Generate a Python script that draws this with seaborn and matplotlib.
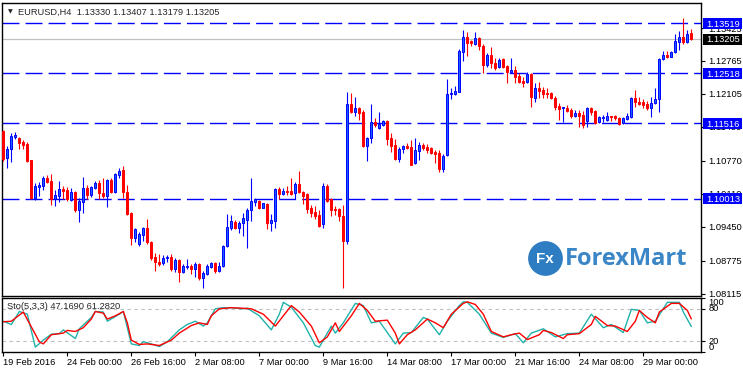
import numpy as np
import pandas as pd
import matplotlib
matplotlib.use('Agg')
import matplotlib.pyplot as plt
import matplotlib.transforms as mtransforms
from matplotlib.patches import Rectangle
from matplotlib.lines import Line2D
import seaborn as sns

# EURUSD H4 candles, 19 Feb 08:00 .. 30 Mar 2016
opens = [
    1.11365, 1.10825, 1.11005, 1.11245, 1.11225, 1.11145, 1.11105, 1.10785, 1.10025, 1.10245,
    1.10265, 1.10425, 1.10365, 1.10005, 1.10065, 1.10205, 1.10185, 1.09985, 1.10145, 1.09785,
    1.09945, 1.10225, 1.10085, 1.10225, 1.10325, 1.10125, 1.10065, 1.10385, 1.10145, 1.10485,
    1.10585, 1.10145, 1.09725, 1.09225, 1.09105, 1.09285, 1.09425, 1.09145, 1.08845, 1.08745,
    1.08725, 1.08825, 1.08845, 1.08605, 1.08785, 1.08545, 1.08645, 1.08665, 1.08605, 1.08705,
    1.08425, 1.08505, 1.08645, 1.08725, 1.08565, 1.08665, 1.09065, 1.09425, 1.09545, 1.09425,
    1.09525, 1.09585, 1.09785, 1.09945, 1.09965, 1.09825, 1.09905, 1.09525, 1.09565, 1.10205,
    1.10105, 1.10165, 1.10165, 1.10125, 1.10305, 1.10145, 1.10105, 1.09825, 1.09745, 1.09685,
    1.09505, 1.10265, 1.10005, 1.09805, 1.09805, 1.09665, 1.09165, 1.11905, 1.11745, 1.11825,
    1.11745, 1.11065, 1.11225, 1.11545, 1.11425, 1.11485, 1.11565, 1.11225, 1.11085, 1.10805,
    1.11005, 1.11065, 1.11045, 1.10725, 1.10965, 1.11085, 1.11045, 1.11025, 1.10945, 1.10925,
    1.10605, 1.10885, 1.12105, 1.12105, 1.12145, 1.12945, 1.13245, 1.13165, 1.13105, 1.13225,
    1.13065, 1.12685, 1.12885, 1.12725, 1.12645, 1.12805, 1.12665, 1.12545, 1.12585, 1.12465,
    1.12365, 1.12345, 1.12505, 1.12025, 1.12225, 1.12185, 1.12125, 1.12125, 1.12025, 1.11865,
    1.11825, 1.11825, 1.11785, 1.11665, 1.11725, 1.11685, 1.11565, 1.11825, 1.11765, 1.11545,
    1.11625, 1.11585, 1.11665, 1.11665, 1.11625, 1.11525, 1.11605, 1.11645, 1.12025, 1.11945,
    1.11945, 1.11905, 1.11825, 1.11925, 1.12005, 1.12805, 1.12885, 1.12845, 1.12945, 1.13145,
    1.13245, 1.13145, 1.13330]
highs = [
    1.11385, 1.11065, 1.11325, 1.11345, 1.11245, 1.11185, 1.11145, 1.10785, 1.10325, 1.10345,
    1.10465, 1.10485, 1.10505, 1.10185, 1.10365, 1.10265, 1.10245, 1.10225, 1.10165, 1.10025,
    1.10445, 1.10285, 1.10265, 1.10365, 1.10385, 1.10425, 1.10405, 1.10425, 1.10525, 1.10625,
    1.10665, 1.10285, 1.09745, 1.09425, 1.09345, 1.09445, 1.09605, 1.09165, 1.08925, 1.08905,
    1.08885, 1.08885, 1.08905, 1.08825, 1.08805, 1.08705, 1.08805, 1.08705, 1.08745, 1.08725,
    1.08565, 1.08705, 1.08745, 1.08745, 1.08745, 1.09085, 1.09705, 1.09685, 1.09585, 1.09565,
    1.09725, 1.09825, 1.10425, 1.10025, 1.09985, 1.09925, 1.09925, 1.09705, 1.10225, 1.10245,
    1.10225, 1.10265, 1.10425, 1.10345, 1.10565, 1.10165, 1.10125, 1.09885, 1.09865, 1.09785,
    1.10325, 1.10305, 1.10025, 1.09865, 1.09825, 1.09885, 1.12145, 1.12125, 1.12045, 1.11845,
    1.11785, 1.11245, 1.11905, 1.11625, 1.11745, 1.11585, 1.11585, 1.11325, 1.11205, 1.11045,
    1.11085, 1.11125, 1.11185, 1.11225, 1.11145, 1.11125, 1.11105, 1.11045, 1.10985, 1.10985,
    1.10905, 1.12405, 1.12225, 1.12265, 1.13005, 1.13385, 1.13345, 1.13185, 1.13345, 1.13245,
    1.13105, 1.12925, 1.13045, 1.12825, 1.12825, 1.12825, 1.12685, 1.12825, 1.12665, 1.12525,
    1.12445, 1.12545, 1.12525, 1.12325, 1.12345, 1.12245, 1.12225, 1.12145, 1.12065, 1.11925,
    1.11845, 1.11885, 1.11825, 1.11785, 1.11785, 1.11765, 1.11845, 1.11845, 1.11785, 1.11665,
    1.11685, 1.11745, 1.11665, 1.11685, 1.11645, 1.11645, 1.11725, 1.12045, 1.12185, 1.12045,
    1.12005, 1.11965, 1.12045, 1.12225, 1.12825, 1.12965, 1.12965, 1.12965, 1.13305, 1.13365,
    1.13625, 1.13385, 1.13407]
lows = [
    1.10765, 1.10625, 1.10745, 1.11205, 1.11005, 1.11005, 1.10745, 1.10005, 1.09985, 1.10065,
    1.10185, 1.10325, 1.09885, 1.09865, 1.09945, 1.10005, 1.09965, 1.09965, 1.09745, 1.09545,
    1.09725, 1.10005, 1.10045, 1.10205, 1.10005, 1.10025, 1.09845, 1.10125, 1.10125, 1.10425,
    1.10025, 1.09685, 1.09085, 1.09145, 1.09065, 1.09165, 1.09105, 1.08785, 1.08565, 1.08665,
    1.08685, 1.08745, 1.08565, 1.08545, 1.08345, 1.08525, 1.08605, 1.08505, 1.08445, 1.08385,
    1.08225, 1.08485, 1.08625, 1.08525, 1.08545, 1.08645, 1.09045, 1.09385, 1.09405, 1.09325,
    1.09265, 1.09025, 1.09565, 1.09865, 1.09805, 1.09825, 1.09405, 1.09365, 1.09425, 1.10005,
    1.10085, 1.10085, 1.10085, 1.10005, 1.10125, 1.09905, 1.09725, 1.09645, 1.09605, 1.09445,
    1.09425, 1.09945, 1.09665, 1.09685, 1.09565, 1.08225, 1.09105, 1.11725, 1.11665, 1.11585,
    1.11045, 1.10765, 1.11125, 1.11445, 1.11405, 1.11465, 1.11085, 1.10945, 1.10785, 1.10745,
    1.10925, 1.11005, 1.10685, 1.10705, 1.10785, 1.10985, 1.10925, 1.10905, 1.10725, 1.10545,
    1.10545, 1.10865, 1.12005, 1.12085, 1.12145, 1.12765, 1.12865, 1.13065, 1.13085, 1.12985,
    1.12525, 1.12645, 1.12625, 1.12585, 1.12625, 1.12625, 1.12325, 1.12545, 1.12325, 1.12325,
    1.12245, 1.12325, 1.11845, 1.11945, 1.12025, 1.12025, 1.12025, 1.12005, 1.11785, 1.11585,
    1.11545, 1.11745, 1.11625, 1.11645, 1.11445, 1.11425, 1.11445, 1.11685, 1.11505, 1.11525,
    1.11545, 1.11565, 1.11565, 1.11585, 1.11485, 1.11505, 1.11585, 1.11625, 1.11845, 1.11885,
    1.11825, 1.11785, 1.11645, 1.11905, 1.11745, 1.12785, 1.12825, 1.12845, 1.12925, 1.12985,
    1.13105, 1.13125, 1.13179]
closes = [
    1.10805, 1.11005, 1.11265, 1.11285, 1.11125, 1.11085, 1.10765, 1.10025, 1.10265, 1.10285,
    1.10425, 1.10345, 1.10005, 1.10085, 1.10205, 1.10165, 1.10005, 1.10145, 1.09785, 1.09965,
    1.10225, 1.10085, 1.10245, 1.10325, 1.10125, 1.10065, 1.10385, 1.10145, 1.10505, 1.10565,
    1.10145, 1.09705, 1.09225, 1.09405, 1.09305, 1.09425, 1.09145, 1.08825, 1.08745, 1.08705,
    1.08825, 1.08845, 1.08605, 1.08785, 1.08545, 1.08665, 1.08665, 1.08605, 1.08705, 1.08425,
    1.08525, 1.08665, 1.08725, 1.08565, 1.08665, 1.09065, 1.09445, 1.09565, 1.09425, 1.09525,
    1.09625, 1.09785, 1.09965, 1.10005, 1.09825, 1.09925, 1.09525, 1.09585, 1.10205, 1.10105,
    1.10165, 1.10145, 1.10105, 1.10305, 1.10145, 1.10065, 1.09805, 1.09725, 1.09665, 1.09465,
    1.10265, 1.09965, 1.09785, 1.09785, 1.09665, 1.09165, 1.11905, 1.11745, 1.11825, 1.11725,
    1.11065, 1.11225, 1.11545, 1.11485, 1.11505, 1.11565, 1.11205, 1.11065, 1.10805, 1.11005,
    1.11065, 1.11025, 1.10685, 1.10985, 1.11085, 1.11025, 1.10985, 1.10925, 1.10905, 1.10605,
    1.10865, 1.12105, 1.12125, 1.12165, 1.12965, 1.13245, 1.13125, 1.13125, 1.13225, 1.13065,
    1.12685, 1.12885, 1.12725, 1.12625, 1.12785, 1.12645, 1.12545, 1.12585, 1.12445, 1.12345,
    1.12325, 1.12505, 1.12045, 1.12225, 1.12165, 1.12105, 1.12105, 1.12025, 1.11845, 1.11805,
    1.11845, 1.11765, 1.11665, 1.11725, 1.11665, 1.11485, 1.11825, 1.11745, 1.11525, 1.11645,
    1.11645, 1.11665, 1.11645, 1.11625, 1.11505, 1.11625, 1.11665, 1.12025, 1.11945, 1.11905,
    1.11885, 1.11825, 1.11925, 1.12005, 1.12805, 1.12885, 1.12845, 1.12945, 1.13165, 1.13245,
    1.13145, 1.13305, 1.13205]

# horizontal levels drawn on the chart
levels = [1.13519, 1.12518, 1.11516, 1.10013]
price_ticks = [1.13425, 1.12765, 1.12105, 1.11450, 1.10770, 1.10110, 1.09450, 1.08775, 1.08115]

date_bars = [0, 16, 32, 48, 64, 80, 96, 112, 128, 144, 160]
date_labels = ['19 Feb 2016', '24 Feb 00:00', '26 Feb 16:00', '2 Mar 08:00', '7 Mar 00:00',
               '9 Mar 16:00', '14 Mar 08:00', '17 Mar 00:00', '21 Mar 16:00', '24 Mar 08:00',
               '29 Mar 00:00']

# Stochastic (5,3,3)
sto_k_bars = [0, 2, 4, 6, 8, 10, 12, 14, 15, 18, 19, 22, 23, 25, 26, 29, 30, 32, 34, 35,
              37, 39, 41, 44, 46, 48, 50, 51, 53, 55, 57, 60, 61, 64, 67, 69, 70, 72, 75, 78,
              79, 82, 83, 85, 88, 90, 92, 94, 98, 100, 102, 105, 106, 109, 111, 114, 115, 116, 119, 122,
              125, 128, 130, 132, 135, 138, 141, 144, 147, 150, 152, 155, 157, 159, 161, 163, 166, 169, 170, 172]
sto_k = [57, 51, 75, 70, 9, 22, 33, 34, 41, 25, 43, 64, 75, 74, 57, 70, 75, 15, 12, 19,
         15, 10, 19, 41, 51, 57, 48, 54, 80, 82, 82, 80, 81, 67, 41, 70, 92, 83, 54, 12,
         9, 48, 35, 54, 90, 86, 54, 57, 15, 35, 36, 64, 61, 32, 57, 86, 93, 92, 70, 35,
         27, 34, 17, 35, 43, 28, 34, 35, 70, 45, 51, 36, 79, 77, 54, 57, 92, 92, 74, 47.169]
sto_d_bars = [0, 2, 5, 9, 10, 12, 15, 16, 18, 20, 22, 23, 25, 26, 28, 30, 31, 32, 34, 36,
              39, 42, 44, 47, 49, 51, 52, 54, 57, 60, 62, 65, 68, 70, 72, 74, 77, 79, 81, 83,
              84, 87, 89, 91, 93, 96, 98, 99, 101, 103, 106, 108, 110, 112, 115, 116, 118, 120, 122, 125,
              127, 129, 131, 134, 135, 137, 140, 141, 144, 147, 148, 151, 153, 156, 158, 159, 161, 163, 164, 167,
              169, 171, 172]
sto_d = [56, 57, 74, 19, 15, 32, 35, 40, 38, 45, 61, 75, 72, 61, 67, 75, 54, 22, 14, 15,
         12, 22, 35, 49, 54, 51, 67, 80, 82, 81, 80, 70, 48, 67, 86, 74, 48, 17, 28, 54,
         38, 67, 90, 77, 57, 59, 35, 15, 32, 41, 61, 54, 45, 70, 90, 93, 88, 70, 38, 28,
         32, 35, 23, 32, 40, 36, 25, 32, 34, 51, 66, 49, 48, 38, 57, 77, 64, 54, 74, 90,
         90, 77, 61.282]

sns.set_style('white')
plt.rcParams['font.family'] = ['Liberation Sans', 'DejaVu Sans']
plt.rcParams['lines.scale_dashes'] = False

W, H = 743, 373
fig = plt.figure(figsize=(W / 100, H / 100), dpi=100)
ax = fig.add_axes([2 / W, (H - 296) / H, 699 / W, 293 / H])
ax2 = fig.add_axes([2 / W, (H - 352) / H, 699 / W, 54 / H])

df = pd.DataFrame({'open': opens, 'high': highs, 'low': lows, 'close': closes})
df['bar'] = np.arange(len(df))
df['up'] = df['close'] >= df['open']
df['bottom'] = df[['open', 'close']].min(axis=1)
df['height'] = (df['close'] - df['open']).abs().clip(lower=0.0001)

wick_col = np.where(df['up'], '#0000FF', '#FF0000')
face_col = np.where(df['up'], '#1560FF', '#FF0000')
ax.vlines(df['bar'], df['low'], df['high'], colors=wick_col, lw=0.8, zorder=3)
ax.bar(df['bar'], df['height'], bottom=df['bottom'], width=0.5, color=face_col,
       edgecolor=wick_col, linewidth=0.7, zorder=4)

xlim = (-0.33, -0.33 + 699 / 4)
ylim = (1.08065, 1.13925)
ax.set_xlim(xlim)
ax.set_ylim(ylim)

for lv in levels:
    ax.axhline(lv, color='#0000FF', lw=1.0, ls=(0, (12.2, 4.4)), zorder=2)
ax.axhline(closes[-1], color='#C0C0C0', lw=0.9, zorder=1)

ax.yaxis.tick_right()
ax.set_yticks(price_ticks)
ax.set_yticklabels([f'{p:.5f}' for p in price_ticks])
ax.tick_params(axis='y', length=3, width=0.8, pad=2.2, labelsize=6.7, colors='black', right=True)
ax.set_xticks([])
for s in ax.spines.values():
    s.set_color('black')
    s.set_linewidth(1.0)

# highlighted price boxes on the right scale
blend = mtransforms.blended_transform_factory(fig.transFigure, ax.transData)
box_h = 11 * (ylim[1] - ylim[0]) / 293
boxes = [(lv, '#0000FF') for lv in levels] + [(closes[-1], '#000000')]
for lv, col in boxes:
    ax.add_patch(Rectangle((703 / W, lv - box_h / 2), 39 / W, box_h, transform=blend,
                           fc=col, ec='none', clip_on=False, zorder=10))
    ax.text(706 / W, lv, f'{lv:.5f}', transform=blend, color='white', fontsize=6.7,
            ha='left', va='center_baseline', clip_on=False, zorder=11)

# header
fig.text(8 / W, 1 - 12 / H, '▼', fontsize=4.5, family='DejaVu Sans', va='center')
fig.text(18 / W, 1 - 12 / H,
         f'EURUSD,H4  {opens[-1]:.5f} {highs[-1]:.5f} {lows[-1]:.5f} {closes[-1]:.5f}',
         fontsize=6.7, va='center')

# watermark
fig.add_artist(Line2D([545 / W], [1 - 258 / H], marker='o', markersize=24,
                      color='#2E7DC2', transform=fig.transFigure))
fig.text(545 / W, 1 - 259 / H, 'Fx', color='white', fontsize=11, weight='bold',
         ha='center', va='center')
fig.text(565 / W, 1 - 259 / H, 'ForexMart', color='#3A86C6', fontsize=17,
         family='Open Sans', weight='bold', ha='left', va='center')

# stochastic panel
sns.lineplot(x=sto_k_bars, y=sto_k, ax=ax2, color='#20B2AA', lw=1.0)
sns.lineplot(x=sto_d_bars, y=sto_d, ax=ax2, color='#FF0000', lw=1.0)
for lv in (80, 20):
    ax2.axhline(lv, color='#C0C0C0', lw=0.8, ls=(0, (2.5, 2.5)), zorder=0)
ax2.set_xlim(xlim)
ax2.set_ylim(0, 100)
ax2.set_xlabel('')
ax2.set_ylabel('')
ax2.yaxis.tick_right()
ax2.set_yticks([100, 80, 20, 0])
ax2.set_yticklabels(['100', '80', '20', '0'])
for lab, va in zip(ax2.get_yticklabels(), ['top', 'center', 'center', 'bottom']):
    lab.set_va(va)
ax2.tick_params(axis='y', length=3, width=0.8, pad=2.2, labelsize=6.7, colors='black', right=True)
ax2.set_xticks(date_bars)
ax2.set_xticklabels(date_labels)
for lab in ax2.get_xticklabels():
    lab.set_ha('left')
ax2.tick_params(axis='x', length=3, width=0.8, pad=1.5, labelsize=6.7, colors='black', bottom=True)
for s in ax2.spines.values():
    s.set_color('black')
    s.set_linewidth(1.0)
ax2.text(5 / 699, 0.85, f'Sto(5,3,3) {sto_k[-1]:.4f} {sto_d[-1]:.4f}', transform=ax2.transAxes,
         fontsize=6.7, va='center', ha='left')

fig.savefig('out.png', dpi=100)
